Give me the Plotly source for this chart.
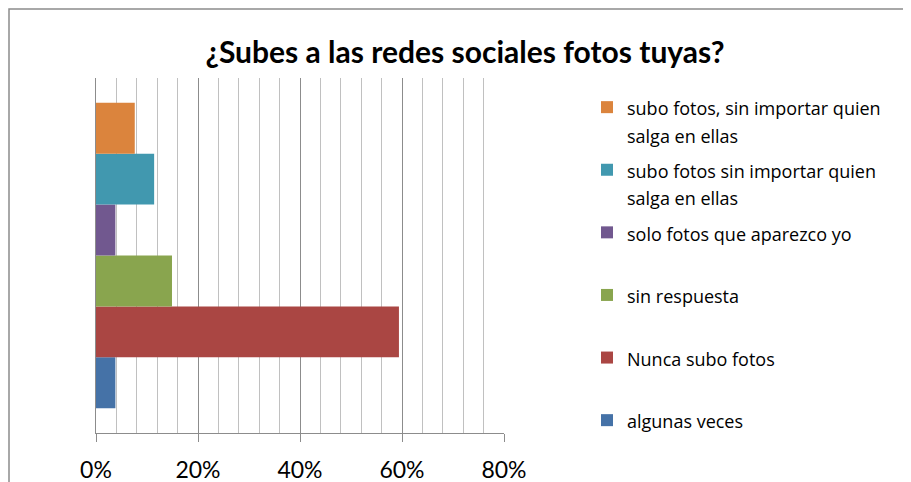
import plotly.graph_objects as go

categories = [""]
series_names = [
    "algunas veces",
    "Nunca subo fotos",
    "sin respuesta",
    "solo fotos que aparezco yo",
    "subo fotos sin importar quien<br>salga en ellas",
    "subo fotos, sin importar quien<br>salga en ellas",
]
series_values = [0.038, 0.594, 0.149, 0.038, 0.114, 0.076]
series_colors = ["#4572A7", "#AA4643", "#89A54E", "#71588F", "#4198AF", "#DB843D"]
tick_vals = [0, 0.2, 0.4, 0.6, 0.8]
tick_text = ["0%", "20%", "40%", "60%", "80%"]

# page body adds an 8px offset; layout coordinates below are target pixels - 8
O = 8
W, H = 911, 482
L, R, T, B = 96 - O, 504 - O, 78 - O, 433 - O


def legend_label(name, last):
    parts = name.split("<br>")
    if len(parts) < 2 and not last:
        parts.append(" ")
    return "<br>".join('<span style="font-size:18px">%s</span>' % p for p in parts)


fig = go.Figure()
n = len(series_names)
for i, (name, val, col) in enumerate(zip(series_names, series_values, series_colors)):
    fig.add_trace(go.Bar(
        y=categories, x=[val], name=legend_label(name, i == 0), orientation="h",
        legendgroup="g%d" % i, legendrank=n - i,
        marker=dict(color=col, line=dict(width=0)),
    ))

fig.update_layout(
    width=W, height=H,
    margin=dict(l=L, r=W - R, t=T, b=H - B, pad=0, autoexpand=False),
    paper_bgcolor="white", plot_bgcolor="white",
    barmode="group", bargap=0.14, bargroupgap=0,
    font=dict(family="Open Sans", color="#000000"),
    title=dict(text="<b>¿Subes a las redes sociales fotos tuyas?</b>",
               x=(465 - O) / W, xanchor="center", xref="container",
               y=1 - (52 - O) / H, yanchor="middle", yref="container",
               font=dict(size=30, family="Lato", color="#000000")),
    showlegend=True,
    legend=dict(
        traceorder="grouped", x=(587 - O - L) / (R - L), xanchor="left",
        y=(B - (87 - O)) / (B - T), yanchor="top",
        font=dict(size=21, family="Open Sans", color="#000000"),
        valign="top", itemclick=False, bgcolor="rgba(0,0,0,0)",
        tracegroupgap=5, borderwidth=0,
    ),
    xaxis=dict(
        range=[0, 0.8], tickvals=tick_vals, ticktext=tick_text,
        showgrid=True, gridcolor="#8c8c8c", gridwidth=1,
        minor=dict(dtick=0.04, showgrid=True, gridcolor="#c0c0c0", gridwidth=1, ticks=""),
        showline=True, linecolor="#8c8c8c", linewidth=1,
        ticks="outside", ticklen=8, tickcolor="#8c8c8c", ticklabelstandoff=8,
        tickfont=dict(size=23, family="Lato", color="#000000"),
        zeroline=False, fixedrange=True, automargin=False,
    ),
    yaxis=dict(
        showticklabels=False, showgrid=False, showline=True,
        linecolor="#8c8c8c", linewidth=1, ticks="", zeroline=False,
        fixedrange=True, automargin=False,
    ),
    shapes=[dict(type="rect", xref="paper", yref="paper",
                 x0=(9 - O - L) / (R - L), x1=(W + 20 - L) / (R - L),
                 y0=(B - (H + 20)) / (B - T), y1=(B - (9 - O)) / (B - T),
                 line=dict(color="#8c8c8c", width=1.5), fillcolor="rgba(0,0,0,0)",
                 layer="below")],
)

try:
    fig.update_layout(legend_maxheight=460)
except Exception:
    pass

fig.write_html("out.html")
